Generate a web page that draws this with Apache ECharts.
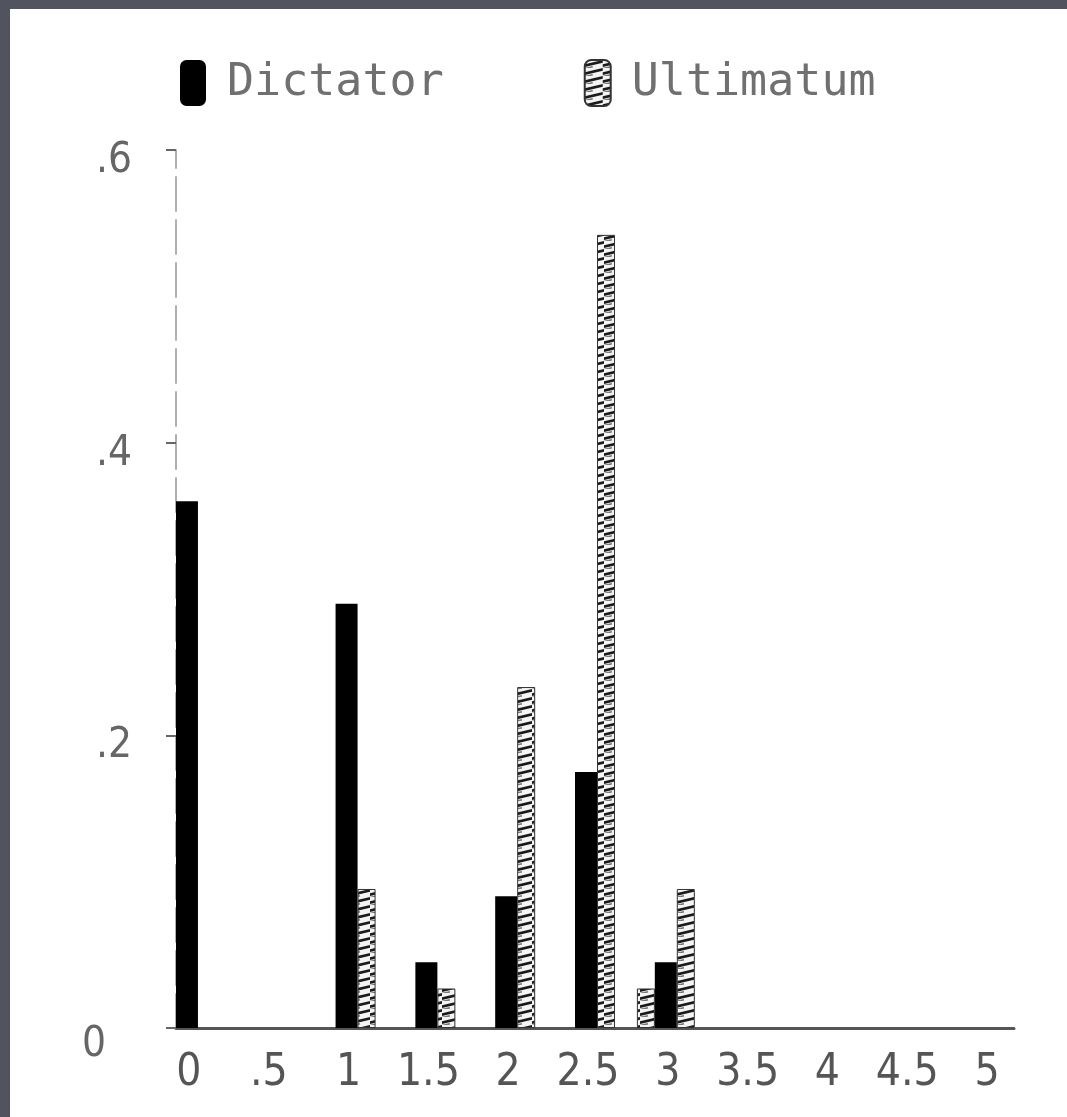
<!DOCTYPE html>
<html>
<head>
<meta charset="utf-8">
<script src="https://cdn.jsdelivr.net/npm/echarts@6/dist/echarts.min.js"></script>
<style>
  html, body { margin: 0; padding: 0; background: #51545f; width: 1067px; height: 1117px; overflow: hidden; }
  #chart { position: absolute; left: 10px; top: 9px; width: 1057px; height: 1108px; background: #ffffff; }
</style>
</head>
<body>
<div id="chart"></div>
<script>
// Category positions (0.25 steps so the 2.75 ultimatum bar has its own slot)
const xCategories = ['0','0.25','0.5','0.75','1','1.25','1.5','1.75','2','2.25','2.5','2.75','3','3.25','3.5','3.75','4','4.25','4.5','4.75','5'];
const xTickLabels = ['0', '.5', '1', '1.5', '2', '2.5', '3', '3.5', '4', '4.5', '5'];
const yTickLabels = ['0', '.2', '.4', '.6'];
const seriesNames = ['Dictator', 'Ultimatum'];
const dictatorValues = [0.36, null, null, null, 0.29, null, 0.045, null, 0.09, null, 0.175, null, 0.045, null, null, null, null, null, null, null, null];
const ultimatumValues = [null, null, null, null, 0.095, null, 0.027, null, 0.233, null, 0.542, 0.027, 0.095, null, null, null, null, null, null, null, null];

function makeHatch() {
  const c = document.createElement('canvas');
  c.width = 18; c.height = 8;
  const g = c.getContext('2d');
  g.fillStyle = '#f4f4f4';
  g.fillRect(0, 0, 18, 8);
  g.strokeStyle = '#1a1a1a';
  g.lineWidth = 2.6;
  g.beginPath();
  g.moveTo(-2, 6); g.lineTo(20, 1);
  g.stroke();
  g.strokeStyle = '#777';
  g.lineWidth = 1.6;
  g.beginPath();
  g.moveTo(0, 8.5); g.lineTo(8, 6.8);
  g.stroke();
  return c;
}
const hatch = makeHatch();

const chart = echarts.init(document.getElementById('chart'), null, { renderer: 'canvas' });
const fontMono = '"DejaVu Sans Mono", "Liberation Mono", monospace';
const fontNarrow = '"Liberation Sans Narrow", "DejaVu Sans Condensed", "Liberation Sans", sans-serif';

chart.setOption({
  animation: false,
  backgroundColor: '#ffffff',
  legend: {
    left: 165,
    top: 45,
    itemWidth: 26,
    itemHeight: 46,
    itemGap: 140,
    icon: 'roundRect',
    textStyle: { fontFamily: fontMono, fontSize: 45, color: '#707070', padding: [0, 0, 0, 16] },
    data: seriesNames
  },
  grid: { left: 166, right: 53, top: 141, bottom: 89, containLabel: false },
  xAxis: {
    type: 'category',
    data: xCategories,
    boundaryGap: true,
    axisLine: { show: true, lineStyle: { color: '#555', width: 3 } },
    axisTick: { show: false },
    axisLabel: {
      interval: 1,
      margin: 24,
      fontFamily: fontNarrow,
      fontSize: 44,
      color: '#555',
      padding: [0, 14, 0, 0],
      formatter: function (v, i) { return xTickLabels[i / 2]; }
    },
    splitLine: { show: false }
  },
  yAxis: {
    type: 'value',
    min: 0,
    max: 0.6,
    interval: 0.2,
    axisLine: { show: true, lineStyle: { color: '#b0b0b0', width: 2, type: [34, 9] } },
    axisTick: { show: true, length: 10, lineStyle: { color: '#666', width: 2 } },
    axisLabel: {
      margin: 44,
      fontFamily: fontNarrow,
      fontSize: 42,
      color: '#666',
      formatter: function (v) {
        const k = Math.round(v / 0.2);
        return k === 0 ? '{z|' + yTickLabels[k] + '}' : '{n|' + yTickLabels[k] + '}';
      },
      rich: {
        n: { fontFamily: fontNarrow, fontSize: 42, color: '#666', padding: [22, 0, 0, 0] },
        z: { fontFamily: fontNarrow, fontSize: 42, color: '#666', padding: [34, 26, 0, 0] }
      }
    },
    splitLine: { show: false }
  },
  series: [
    {
      name: seriesNames[0],
      type: 'bar',
      data: dictatorValues,
      barWidth: 22,
      barGap: '0%',
      itemStyle: { color: '#000000' }
    },
    {
      name: seriesNames[1],
      type: 'bar',
      data: ultimatumValues,
      barWidth: 18,
      barGap: '0%',
      itemStyle: { color: { image: hatch, repeat: 'repeat' }, borderColor: '#333', borderWidth: 1 }
    }
  ]
});
</script>
</body>
</html>
